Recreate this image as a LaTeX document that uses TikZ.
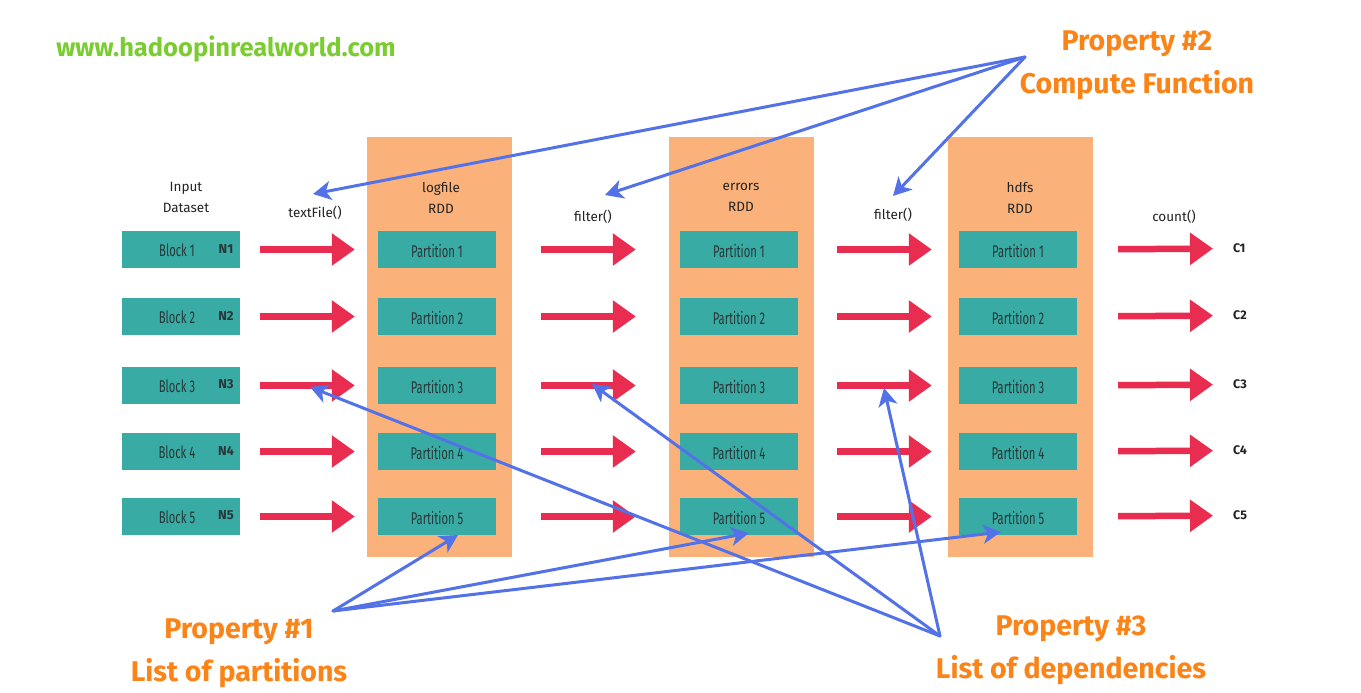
\documentclass[tikz,border=0pt]{standalone}
\usepackage{fontspec}
\setmainfont{Fira Sans}
\newfontfamily\boxfont[FakeStretch=0.66]{Fira Sans}
\newfontfamily\hand{Fira Sans}
\usetikzlibrary{arrows.meta}
\definecolor{teal1}{RGB}{56,171,164}
\definecolor{orng}{RGB}{251,178,122}
\definecolor{redar}{RGB}{232,45,80}
\definecolor{bluar}{RGB}{84,114,232}
\definecolor{proptxt}{RGB}{250,132,24}
\definecolor{webgreen}{RGB}{122,204,48}
\definecolor{boxtxt}{RGB}{40,55,55}
\definecolor{hdtxt}{RGB}{35,35,35}
\tikzset{
  rddcol/.style={fill=orng, draw=none, minimum width=145pt, minimum height=420pt, inner sep=0pt},
  tbox/.style={fill=teal1, draw=none, minimum width=118pt, minimum height=37pt, inner sep=0pt},
  btxt/.style={font=\boxfont\fontsize{17}{19}\selectfont, text=boxtxt, inner sep=0pt},
  ntxt/.style={font=\hand\bfseries\fontsize{13}{15}\selectfont, text=boxtxt, inner sep=0pt},
  hdr/.style={font=\hand\fontsize{13.5}{21}\selectfont, text=hdtxt, align=center, inner sep=0pt},
  ctxt/.style={font=\hand\bfseries\fontsize{12.5}{14}\selectfont, text=hdtxt, inner sep=0pt, anchor=west},
  redarrow/.style={draw=redar, line width=6.5pt, -{Triangle[length=23pt,width=31pt]}},
  bluearrow/.style={draw=bluar, line width=3pt, -{Stealth[length=18pt,width=19pt,inset=5pt]}},
  prop/.style={font=\hand\bfseries\fontsize{28.5}{43}\selectfont, text=proptxt, align=center, inner sep=0pt},
}
\begin{document}
\begin{tikzpicture}[x=1pt,y=-1pt]
\useasboundingbox (0,0) rectangle (1361,693);
\fill[white] (0,0) rectangle (1361,693);
% website
\node[font=\hand\bfseries\fontsize{25.5}{27}\selectfont, text=webgreen, inner sep=0pt] (web) at (226,49) {www.hadoopinrealworld.com};
% RDD columns
\node[rddcol] (rdd1) at (439.5,347) {};
\node[rddcol] (rdd2) at (741.5,347) {};
\node[rddcol] (rdd3) at (1020.5,347) {};
% headers
\node[hdr] (hin) at (186,197.5) {Input\\Dataset};
\node[hdr] (h1) at (441,197.5) {logfile\\RDD};
\node[hdr] (h2) at (741,197.5) {errors\\RDD};
\node[hdr] (h3) at (1020,197.5) {hdfs\\RDD};
\node[hdr] (tf) at (315,213) {textFile()};
\node[hdr] (f1) at (593,217) {filter()};
\node[hdr] (f2) at (893,215) {filter()};
\node[hdr] (cnt) at (1174,217) {count()};
% rows
\foreach \i/\y in {1/249.5,2/316.5,3/385.5,4/451.5,5/516.5}{
  \node[tbox] (b\i) at (181,\y) {};
  \node[btxt] at ([xshift=-4pt,yshift=-1pt]b\i.center) {Block \i};
  \node[ntxt] at ([xshift=45pt,yshift=1pt]b\i.center) {N\i};
  \node[tbox] (pa\i) at (437,\y) {};
  \node[btxt] at ([yshift=-1pt]pa\i.center) {Partition \i};
  \node[tbox] (pb\i) at (739,\y) {};
  \node[btxt] at ([yshift=-1pt]pb\i.center) {Partition \i};
  \node[tbox] (pc\i) at (1018,\y) {};
  \node[btxt] at ([yshift=-1pt]pc\i.center) {Partition \i};
  \node[ctxt] (c\i) at (1233,\y-1) {C\i};
  \draw[redarrow, shorten <=20pt, shorten >=23pt] (b\i) -- (pa\i);
  \draw[redarrow, shorten <=45pt, shorten >=44pt] (pa\i) -- (pb\i);
  \draw[redarrow, shorten <=39pt, shorten >=27pt] (pb\i) -- (pc\i);
  \draw[redarrow, shorten <=41pt, shorten >=20pt] (pc\i.east) -- (c\i.west);
}
% property labels
\node[prop] (prop2) at (1137,65) {Property \#2\\Compute Function};
\node[prop] (prop1) at (239,653) {Property \#1\\List of partitions};
\node[prop] (prop3) at (1071,650) {Property \#3\\List of dependencies};
% blue arrow anchors
\coordinate (ap2) at (1025,57);
\coordinate (ap1) at (333,611);
\coordinate (ap3) at (940,636);
\coordinate (t2a) at (313,194);
\coordinate (t2b) at (605,195);
\coordinate (t2c) at (893,196);
\coordinate (t1a) at (458,535);
\coordinate (t1b) at (749,533);
\coordinate (t1c) at (1001,532);
\coordinate (t3a) at (310,387);
\coordinate (t3b) at (592,384);
\coordinate (t3c) at (884,388);
\foreach \a/\t in {ap2/t2a,ap2/t2b,ap2/t2c,ap1/t1a,ap1/t1b,ap1/t1c,ap3/t3a,ap3/t3b,ap3/t3c}{
  \draw[bluearrow, line cap=round] (\a) -- (\t);
}
\end{tikzpicture}
\end{document}
